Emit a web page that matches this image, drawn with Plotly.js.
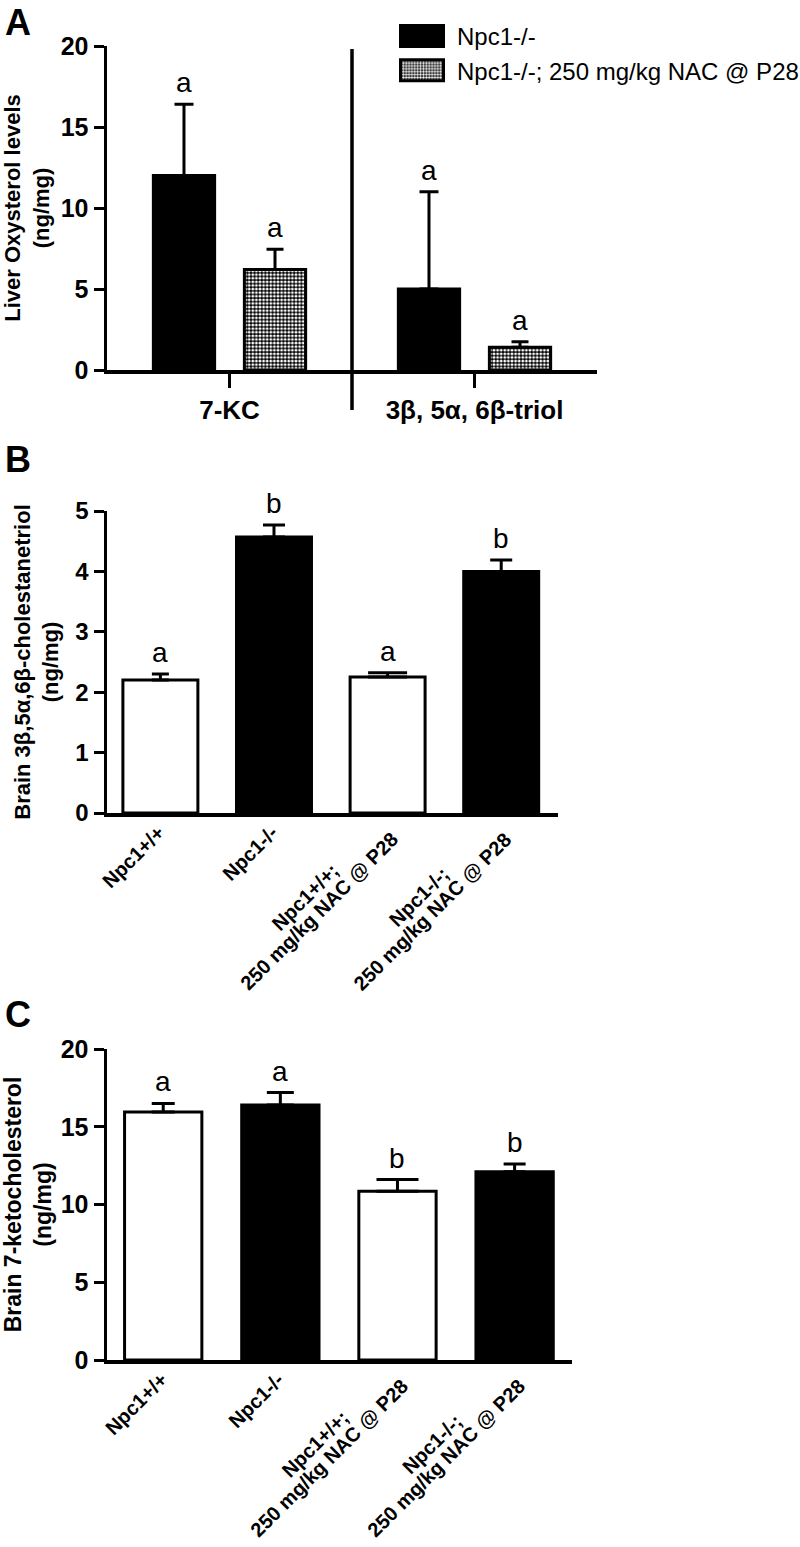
<!DOCTYPE html>
<html><head><meta charset="utf-8">
<script src="https://cdn.plot.ly/plotly-3.0.1.min.js"></script>
<style>html,body{margin:0;padding:0;background:#fff}#chart{width:800px;height:1547px}</style>
</head><body><div id="chart"></div>
<script>
// ---------------- DATA ----------------
// Panel A: liver oxysterols
const catsA = ['7-KC', '3β, 5α, 6β-triol'];
const seriesNamesA = ['Npc1-/-', 'Npc1-/-; 250 mg/kg NAC @ P28'];
const meanA_npc = [12.0, 5.0];
const semA_npc = [4.4, 6.0];
const meanA_nac = [6.2, 1.4];
const semA_nac = [1.25, 0.35];
const lettersA_npc = ['a', 'a'];
const lettersA_nac = ['a', 'a'];
const yTicksA = [0, 5, 10, 15, 20];

// Panels B and C: brain oxysterols, four groups
const groups = ['Npc1+/+', 'Npc1-/-', 'Npc1+/+;\n250 mg/kg NAC @ P28', 'Npc1-/-;\n250 mg/kg NAC @ P28'];
const meanB = [2.2, 4.57, 2.25, 4.0];
const semB = [0.1, 0.2, 0.07, 0.19];
const lettersB = ['a', 'b', 'a', 'b'];
const yTicksB = [0, 1, 2, 3, 4, 5];

const meanC = [15.95, 16.4, 10.85, 12.1];
const semC = [0.55, 0.8, 0.75, 0.5];
const lettersC = ['a', 'a', 'b', 'b'];
const yTicksC = [0, 5, 10, 15, 20];

// ---------------- STYLE ----------------
const fillBC = ['white', 'black', 'white', 'black'];
const capB = [8.5, 11, 19.5, 11];
const capC = [11.5, 13.5, 21, 11];
const FONT = '"Liberation Sans", Arial, Helvetica, sans-serif';
const W = 800, H = 1547;
const px = x => x / W, py = y => 1 - y / H;
const boxA = {l: 107, r: 597, t: 46, b: 370};
const boxB = {l: 107, r: 558, t: 511, b: 813};
const boxC = {l: 107, r: 572, t: 1049, b: 1360};
const BARGAP = 0.257, BARGROUPGAP = 0.327;

const traces = [];
const errStyle = (arr, w) => ({type: 'data', array: arr, arrayminus: arr.map(() => 0), symmetric: false,
  color: 'black', thickness: 3, width: w});

traces.push({type: 'bar', name: seriesNamesA[0], x: catsA, y: meanA_npc, xaxis: 'x', yaxis: 'y',
  marker: {color: 'black', line: {color: 'black', width: 3}},
  error_y: errStyle(semA_npc, 9.5), hoverinfo: 'skip'});
traces.push({type: 'bar', name: seriesNamesA[1], x: catsA, y: meanA_nac, xaxis: 'x', yaxis: 'y',
  marker: {color: 'black', line: {color: 'black', width: 3},
    pattern: {shape: '.', fillmode: 'replace', bgcolor: 'black', fgcolor: 'white', size: 3.6, solidity: 0.5}},
  error_y: errStyle(semA_nac, 8.5), hoverinfo: 'skip'});

function addPanel(means, sems, caps, xa, ya, grp) {
  groups.forEach((g, i) => {
    traces.push({type: 'bar', x: [g], y: [means[i]], xaxis: xa, yaxis: ya, width: 0.66, offsetgroup: grp,
      marker: {color: fillBC[i], line: {color: 'black', width: 3}},
      error_y: errStyle([sems[i]], caps[i]), showlegend: false, hoverinfo: 'skip'});
  });
}
addPanel(meanB, semB, capB, 'x2', 'y2', 'B');
addPanel(meanC, semC, capC, 'x3', 'y3', 'C');

// ---------------- AXES ----------------
const tickFont = s => ({family: FONT, size: s, weight: 'bold', color: 'black'});
function yAxis(box, anchor, range, tv, title, tsize, standoff, tfs) {
  return {domain: [py(box.b), py(box.t)], anchor: anchor, range: range, tickvals: tv, ticktext: tv.map(String),
    showline: true, linewidth: 3.5, linecolor: 'black', ticks: 'outside', ticklen: 10, tickwidth: 3, tickcolor: 'black',
    tickfont: tickFont(tfs), showgrid: false, zeroline: false, fixedrange: true,
    title: {text: title, font: {family: FONT, size: tsize, weight: 'bold', color: 'black'}, standoff: standoff}};
}
function xAxis(box, anchor, range, showTicks) {
  return {domain: [px(box.l), px(box.r)], anchor: anchor, type: 'category', range: range,
    showline: true, linewidth: 3.5, linecolor: 'black', ticks: showTicks ? 'outside' : '', ticklen: 14, tickwidth: 3.5,
    tickcolor: 'black', showticklabels: showTicks, tickfont: tickFont(26), showgrid: false, zeroline: false, fixedrange: true};
}

// ---------------- ANNOTATIONS ----------------
const ann = [];
const letterFont = {family: FONT, size: 28, color: 'black'};
const offA = (1 - BARGAP) / 4;
catsA.forEach((c, i) => {
  ann.push({xref: 'x', yref: 'y', x: i - offA, y: meanA_npc[i] + semA_npc[i], text: lettersA_npc[i],
    showarrow: false, xanchor: 'center', yanchor: 'bottom', yshift: 4, font: letterFont});
  ann.push({xref: 'x', yref: 'y', x: i + offA, y: meanA_nac[i] + semA_nac[i], text: lettersA_nac[i],
    showarrow: false, xanchor: 'center', yanchor: 'bottom', yshift: 4, font: letterFont});
});
function letterAnn(means, sems, letters, xa, ya) {
  letters.forEach((l, i) => ann.push({xref: xa, yref: ya, x: i, y: means[i] + sems[i], text: l,
    showarrow: false, xanchor: 'center', yanchor: 'bottom', yshift: 4, font: letterFont}));
}
letterAnn(meanB, semB, lettersB, 'x2', 'y2');
letterAnn(meanC, semC, lettersC, 'x3', 'y3');

// rotated category labels (centred lines) for B and C
const LBL = 20, LSP = 20, K = Math.SQRT1_2;
const cv = document.createElement('canvas').getContext('2d');
function textW(t) { cv.font = 'bold ' + LBL + 'px "Liberation Sans"'; return cv.measureText(t).width; }
function rotLabels(xa, ya) {
  groups.forEach((g, i) => {
    const lines = g.split('\n');
    const n = lines.length;
    const bx = 0, by = 16; // block end centre relative to (tick, axis)
    const ex = bx + (n - 1) * LSP / 2 * K, ey = by + (n - 1) * LSP / 2 * K;
    const wl = textW(lines[n - 1]);
    const clx = ex - wl / 2 * K, cly = ey + wl / 2 * K;
    lines.forEach((ln, j) => {
      const k = n - 1 - j;
      const cx = clx - k * LSP * K, cy = cly - k * LSP * K;
      ann.push({xref: xa, yref: ya, x: i, y: 0, text: ln, showarrow: false, textangle: -45,
        xanchor: 'center', yanchor: 'middle', xshift: cx, yshift: -cy,
        font: {family: FONT, size: LBL, weight: 'bold', color: 'black'}});
    });
  });
}
rotLabels('x2', 'y2');
rotLabels('x3', 'y3');

const panelFont = {family: FONT, size: 36, weight: 'bold', color: 'black'};
[['A', 0], ['B', 437], ['C', 992]].forEach(([t, y]) => ann.push({xref: 'paper', yref: 'paper', x: px(3), y: py(y),
  xanchor: 'left', yanchor: 'top', text: t, showarrow: false, font: panelFont}));

const layout = {
  width: W, height: H, margin: {l: 0, r: 0, t: 0, b: 0, autoexpand: false},
  paper_bgcolor: 'white', plot_bgcolor: 'white',
  font: {family: FONT, color: 'black'},
  barmode: 'group', bargap: BARGAP, bargroupgap: BARGROUPGAP,
  showlegend: true,
  legend: {x: px(387), y: py(14), xanchor: 'left', yanchor: 'top', font: {family: FONT, size: 24, color: 'black'},
    bgcolor: 'rgba(0,0,0,0)', itemwidth: 60, tracegroupgap: 0, itemclick: false, itemdoubleclick: false},
  xaxis: xAxis(boxA, 'y', [-0.5, 1.5], true),
  yaxis: yAxis(boxA, 'x', [0, 20], yTicksA, 'Liver Oxysterol levels<br>(ng/mg)', 22, 11, 25),
  xaxis2: xAxis(boxB, 'y2', [-0.47, 3.5], false),
  yaxis2: yAxis(boxB, 'x2', [0, 5], yTicksB, 'Brain 3β,5α,6β-cholestanetriol<br>(ng/mg)', 22, 11, 24),
  xaxis3: xAxis(boxC, 'y3', [-0.48, 3.49], false),
  yaxis3: yAxis(boxC, 'x3', [0, 20], yTicksC, 'Brain 7-ketocholesterol<br>(ng/mg)', 23, 13, 25),
  shapes: [{type: 'line', xref: 'x', yref: 'paper', x0: 0.5, x1: 0.5, y0: py(410), y1: py(49),
    line: {color: 'black', width: 3.5}}],
  annotations: ann
};

Plotly.newPlot('chart', traces, layout, {staticPlot: true}).then(gd => {
  gd.querySelectorAll('.legend .legendpoints path').forEach(p => p.setAttribute('d', 'M21.5,10.5H-21.5V-10.5H21.5Z'));
});
</script></body></html>
